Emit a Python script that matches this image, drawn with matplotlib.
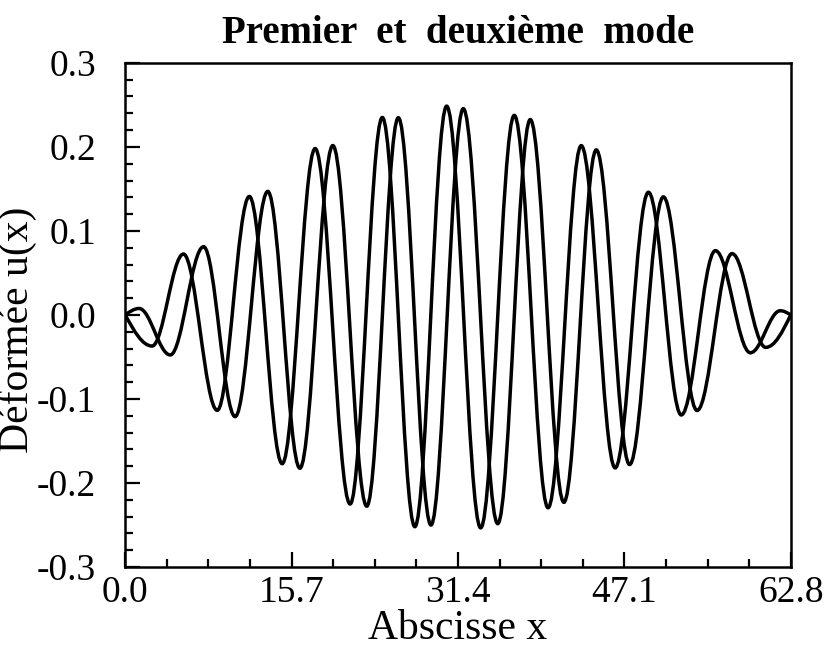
import matplotlib
matplotlib.use("Agg")
import matplotlib.pyplot as plt
from matplotlib.path import Path
from matplotlib.patches import PathPatch
from matplotlib.ticker import FixedLocator, MultipleLocator

# ---- data: extrema of each mode (plus end points) ----
mode1_x = [0.0, 2.53, 5.49, 8.68, 11.71, 14.81, 17.92, 21.22, 24.26, 27.33, 30.33,
           33.54, 36.71, 39.90, 43.03, 46.23, 49.37, 52.47, 55.69, 58.99, 61.81, 62.8]
mode1_y = [0.0, -0.037, 0.0725, -0.1135, 0.141, -0.177, 0.198, -0.225, 0.235, -0.252, 0.2485,
           -0.2534, 0.2375, -0.2295, 0.2015, -0.182, 0.146, -0.119, 0.0765, -0.045, 0.005, 0.0]

mode2_x = [0.0, 1.31, 4.25, 7.39, 10.37, 13.45, 16.48, 19.59, 22.79, 25.77, 28.85,
           31.90, 35.15, 38.22, 41.39, 44.45, 47.59, 50.78, 53.96, 57.26, 60.44, 62.8]
mode2_y = [0.0, 0.0077, -0.0476, 0.0812, -0.121, 0.147, -0.1824, 0.2016, -0.2276, 0.2347, -0.250,
           0.2455, -0.2484, 0.2325, -0.223, 0.1964, -0.178, 0.1405, -0.1137, 0.073, -0.0386, 0.0]

x_ticks = [0.0, 15.7, 31.4, 47.1, 62.8]
x_tick_labels = ["0.0", "15.7", "31.4", "47.1", "62.8"]
y_ticks = [-0.3, -0.2, -0.1, 0.0, 0.1, 0.2, 0.3]
y_tick_labels = ["-0.3", "-0.2", "-0.1", "0.0", "0.1", "0.2", "0.3"]

title = "Premier  et  deuxième  mode"
xlabel = "Abscisse x"
ylabel = "Déformée u(x)"


def smooth_path(xs, ys):
    """Smooth curve through the extrema using cubic Bezier segments."""
    K = 0.3634
    n = len(xs)
    verts = [(xs[0], ys[0])]
    codes = [Path.MOVETO]
    for i in range(n - 1):
        x0, y0, x1, y1 = xs[i], ys[i], xs[i + 1], ys[i + 1]
        dx, dy = x1 - x0, y1 - y0
        if i == 0:
            p1 = (x0 + 0.3261 * dx, y0 + 0.5123 * dy)
            p2 = (x0 + 0.6381 * dx, y1)
        elif i == n - 2:
            p1 = (x0 + 0.3619 * dx, y0)
            p2 = (x0 + 0.6739 * dx, y1 - 0.5123 * dy)
        else:
            p1 = (x0 + K * dx, y0)
            p2 = (x1 - K * dx, y1)
        verts += [p1, p2, (x1, y1)]
        codes += [Path.CURVE4] * 3
    return Path(verts, codes)


plt.rcParams["font.family"] = ["Liberation Serif", "DejaVu Serif"]

fig = plt.figure(figsize=(8.35, 6.62), dpi=100)
ax = fig.add_axes([0.150, 0.1435, 0.797, 0.7615])

for xs, ys in ((mode1_x, mode1_y), (mode2_x, mode2_y)):
    ax.add_patch(PathPatch(smooth_path(xs, ys), facecolor="none",
                           edgecolor="black", lw=2.5, transform=ax.transData))

ax.set_xlim(0.0, 62.8)
ax.set_ylim(-0.3, 0.3)

ax.xaxis.set_major_locator(FixedLocator(x_ticks))
ax.set_xticklabels(x_tick_labels)
ax.xaxis.set_minor_locator(FixedLocator([15.7 / 4 * i for i in range(17)]))
ax.yaxis.set_major_locator(FixedLocator(y_ticks))
ax.set_yticklabels(y_tick_labels)
ax.yaxis.set_minor_locator(MultipleLocator(0.02))

ax.tick_params(which="both", direction="in", top=False, right=False,
               width=1.6, labelsize=27)
ax.tick_params(axis="x", which="major", length=11, pad=6)
ax.tick_params(axis="y", which="major", length=11, pad=21)
ax.tick_params(which="minor", length=6)

for s in ax.spines.values():
    s.set_linewidth(1.8)

ax.set_title(title, fontsize=28, fontweight="bold", pad=14)
ax.set_xlabel(xlabel, fontsize=30)
ax.set_ylabel(ylabel, fontsize=30)
ax.xaxis.set_label_coords(0.5, -0.085)
ax.yaxis.set_label_coords(-0.132, 0.47)

fig.savefig("out.png", dpi=100)
